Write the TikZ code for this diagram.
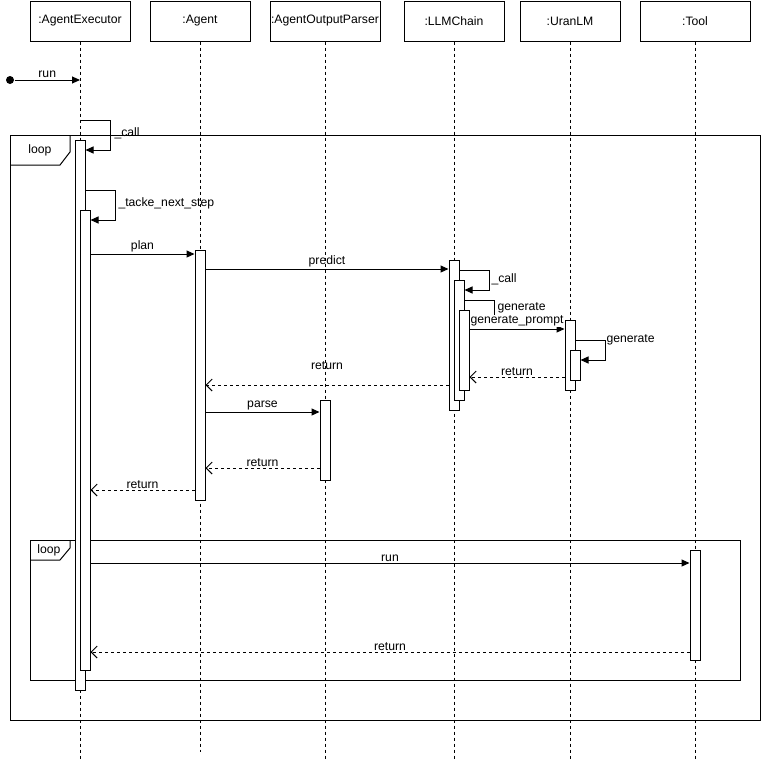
\documentclass[tikz,border=0pt]{standalone}
\usepackage{fontspec}
\setmainfont{Liberation Sans}
\usetikzlibrary{arrows.meta, positioning}

\begin{document}
\begin{tikzpicture}[x=1pt, y=-1pt, line width=1pt, font=\fontsize{12.2}{14}\selectfont,
  head/.style={draw, minimum width=100pt, minimum height=40pt, inner sep=0pt, anchor=north},
  life/.style={dash pattern=on 3pt off 3pt},
  act/.style={draw, fill=white, minimum width=10pt, inner sep=0pt, anchor=north},
  msg/.style={-{Triangle[length=8pt,width=7pt]}},
  ret/.style={dash pattern=on 3pt off 3pt, -{Straight Barb[length=6pt,width=12pt]}},
  lbl/.style={inner sep=1pt}]
	\useasboundingbox (0,0) rectangle (761,761);
	% loop frames
	\draw (10,135) rectangle (760,720);
	\draw (10,165) -- (60,165) -- (70,152) -- (70,135);
	\node[lbl] (loopA) at (40,150) {loop};
	\draw (30,540) rectangle (740,680);
	\draw (30,560) -- (60,560) -- (70,548) -- (70,540);
	\node[lbl] (loopB) at (49,550) {loop};
	% participants
	\node[head] (ae) at (80,0.5) {:AgentExecutor};
	\node[head] (ag) at (200,0.5) {:Agent};
	\node[head, minimum width=110pt] (op) at (325,0.5) {:AgentOutputParser};
	\node[head] (lc) at (454,0.5) {:LLMChain};
	\node[head] (ul) at (570,0.5) {:UranLM};
	\node[head, minimum width=110pt] (tl) at (695,0.5) {:Tool};
	\draw[life] (ae.south) -- ++(0,717);
	\draw[life] (ag.south) -- ++(0,710);
	\draw[life] (op.south) -- ++(0,717);
	\draw[life] (lc.south) -- ++(0,717);
	\draw[life] (ul.south) -- ++(0,717);
	\draw[life] (tl.south) -- ++(0,717);
	% activations
	\node[act, minimum height=550pt] (aeA) at (80,140) {};
	\node[act, minimum height=460pt] (aeB) at (85,210) {};
	\node[act, minimum height=250pt] (agA) at (200,250) {};
	\node[act, minimum height=150pt] (lcA) at (454,260) {};
	\node[act, minimum height=120pt] (lcB) at (459,280) {};
	\node[act, minimum height=80pt] (lcC) at (464,310) {};
	\node[act, minimum height=70pt] (ulA) at (570,320) {};
	\node[act, minimum height=30pt] (ulB) at (575,350) {};
	\node[act, minimum height=80pt] (opA) at (325,400) {};
	\node[act, minimum height=110pt] (tlA) at (695,550) {};
	% messages
	\node[circle, fill, inner sep=0pt, minimum size=8pt] (start) at (10,80) {};
	\draw[msg] (start) -- node[above, lbl, yshift=1pt] (run1) {run} (ae.south |- 0,80);
	\draw[msg] (ae.south |- 0,120) -- ++(30,0) |- (aeA.east |- 0,150);
	\node[lbl, anchor=west] (call1) at (113,133) {\_call};
	\draw[msg] (aeA.east |- 0,190) -- ++(30,0) |- (aeB.east |- 0,220);
	\node[lbl, anchor=west] (next) at (117,203) {\_tacke\_next\_step};
	\draw[msg] (aeB.east |- 0,254) -- node[above, lbl] (plan) {plan} (agA.west |- 0,254);
	\draw[msg] (agA.east |- 0,269) -- node[above, lbl] (predict) {predict} (lcA.west |- 0,269);
	\draw[msg] (lcA.east |- 0,270) -- ++(30,0) |- (lcB.east |- 0,290);
	\node[lbl, anchor=west] (call2) at (490,279) {\_call};
	\draw[msg] (lcB.east |- 0,300) -- ++(30,0) |- (lcC.east |- 0,320);
	\node[lbl, anchor=west] (gen1) at (496,308) {generate};
	\draw[msg] (lcC.east |- 0,329) -- node[above, lbl, fill=white, yshift=1.5pt] (prompt) {generate\_prompt} (ulA.west |- 0,329);
	\draw[msg] (ulA.east |- 0,340) -- ++(30,0) |- (ulB.east |- 0,360);
	\node[lbl, anchor=west] (gen2) at (605,340) {generate};
	\draw[ret] (ulA.west |- 0,377) -- node[above, lbl] (ret1) {return} (lcC.east |- 0,377);
	\draw[ret] (lcA.west |- 0,385) -- node[above, lbl, yshift=14pt] (ret2) {return} (agA.east |- 0,385);
	\draw[msg] (agA.east |- 0,412) -- node[above, lbl] (parse) {parse} (opA.west |- 0,412);
	\draw[ret] (opA.west |- 0,468) -- node[above, lbl] (ret3) {return} (agA.east |- 0,468);
	\draw[ret] (agA.west |- 0,490) -- node[above, lbl] (ret4) {return} (aeB.east |- 0,490);
	\draw[msg] (aeB.east |- 0,563) -- node[above, lbl] (run2) {run} (tlA.west |- 0,563);
	\draw[ret] (tlA.west |- 0,652) -- node[above, lbl] (ret5) {return} (aeB.east |- 0,652);
\end{tikzpicture}
\end{document}
